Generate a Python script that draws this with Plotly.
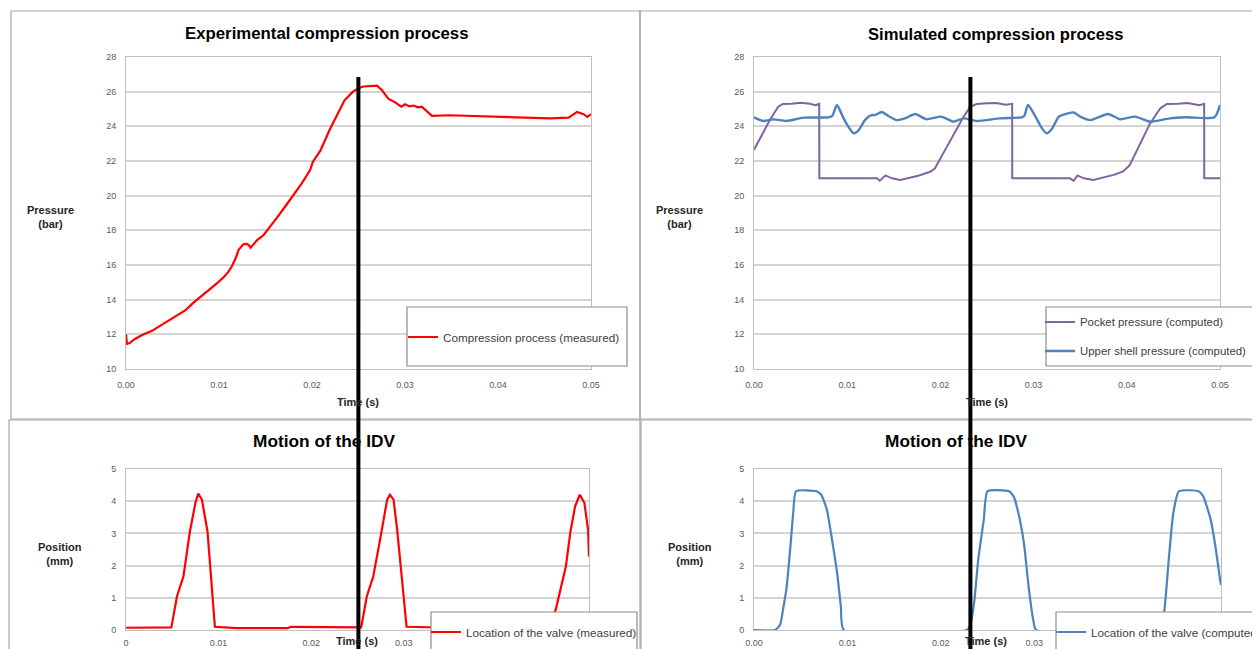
import plotly.graph_objects as go

# ---------------- data ----------------
# Experimental compression process (measured pressure, bar)
t_meas = [0.0000, 0.0001, 0.0004, 0.0010, 0.0019, 0.0028, 0.0037, 0.0046, 0.0055, 0.0064,
          0.0072, 0.0081, 0.0090, 0.0098, 0.0105, 0.0110, 0.0114, 0.0118, 0.0121, 0.0124,
          0.0126, 0.0130, 0.0132, 0.0134, 0.0137, 0.0141, 0.0148, 0.0153, 0.0157, 0.0162,
          0.0171, 0.0180, 0.0189, 0.0198, 0.0201, 0.0209, 0.0219, 0.0227, 0.0235, 0.0244,
          0.0250, 0.0255, 0.0262, 0.0270, 0.0275, 0.0282, 0.0289, 0.0296, 0.0300, 0.0305,
          0.0309, 0.0314, 0.0318, 0.0323, 0.0329, 0.0348, 0.0384, 0.0420, 0.0456, 0.0476,
          0.0481, 0.0485, 0.0492, 0.0496, 0.0500]
p_meas = [12.00, 11.45, 11.50, 11.75, 12.00, 12.20, 12.50, 12.80, 13.06, 13.40,
          13.80, 14.20, 14.56, 14.95, 15.30, 15.60, 15.94, 16.40, 16.87, 17.10,
          17.20, 17.22, 17.15, 17.00, 17.20, 17.44, 17.73, 18.10, 18.40, 18.70,
          19.36, 20.04, 20.71, 21.48, 21.96, 22.60, 23.80, 24.65, 25.50, 26.00,
          26.20, 26.30, 26.33, 26.35, 26.10, 25.60, 25.40, 25.13, 25.27, 25.15,
          25.20, 25.10, 25.13, 24.90, 24.60, 24.64, 24.58, 24.50, 24.46, 24.50,
          24.70, 24.83, 24.70, 24.55, 24.70]

# Simulated pocket pressure (bar)
t_pocket = [0.0000, 0.0017, 0.0026, 0.0031, 0.0040, 0.0050, 0.0060, 0.0066, 0.0070, 0.00701,
            0.0132, 0.0135, 0.0141, 0.0148, 0.0157, 0.0175, 0.0189, 0.0194, 0.0203, 0.0214,
            0.0225, 0.0232, 0.0239, 0.0250, 0.0260, 0.0270, 0.0277, 0.02771, 0.0339, 0.0343,
            0.0347, 0.0354, 0.0364, 0.0386, 0.0396, 0.0403, 0.0414, 0.0425, 0.0436, 0.0443,
            0.0455, 0.0465, 0.0478, 0.0483, 0.04831, 0.0500]
p_pocket = [22.65, 24.36, 25.13, 25.29, 25.30, 25.36, 25.30, 25.22, 25.30, 21.00,
            21.00, 20.86, 21.17, 21.00, 20.90, 21.13, 21.38, 21.57, 22.44, 23.50,
            24.56, 25.13, 25.29, 25.33, 25.35, 25.25, 25.30, 21.00, 21.00, 20.86,
            21.17, 21.00, 20.90, 21.20, 21.40, 21.75, 22.92, 24.17, 25.04, 25.29,
            25.30, 25.35, 25.22, 25.30, 21.00, 21.00]

# Simulated upper shell pressure (bar)
t_shell = [0.0000, 0.0010, 0.0021, 0.0035, 0.0053, 0.0080, 0.0084, 0.0089, 0.0094, 0.0099,
           0.0107, 0.0112, 0.0119, 0.0126, 0.0130, 0.0137, 0.0144, 0.0153, 0.0162, 0.0173,
           0.0185, 0.0201, 0.0214, 0.0225, 0.0239, 0.0264, 0.0287, 0.0290, 0.0294, 0.0302,
           0.0309, 0.0314, 0.0320, 0.0327, 0.0334, 0.0343, 0.0350, 0.0361, 0.0380, 0.0393,
           0.0409, 0.0425, 0.0446, 0.0464, 0.0494, 0.0500]
p_shell = [24.52, 24.31, 24.40, 24.31, 24.50, 24.52, 24.60, 25.23, 24.71, 24.17,
           23.60, 23.75, 24.36, 24.65, 24.65, 24.83, 24.60, 24.36, 24.46, 24.71,
           24.41, 24.56, 24.27, 24.46, 24.31, 24.46, 24.52, 24.60, 25.23, 24.56,
           23.88, 23.60, 23.88, 24.56, 24.71, 24.80, 24.56, 24.36, 24.71, 24.41,
           24.56, 24.27, 24.46, 24.52, 24.52, 25.23]

# Measured valve location (mm)
t_valve_meas = [0.0000, 0.0020, 0.0049, 0.0055, 0.0062, 0.0069, 0.0075, 0.0078, 0.0082, 0.0088,
                0.0091, 0.0096, 0.0120, 0.0175, 0.0178, 0.0220, 0.0254, 0.0260, 0.0267, 0.0275,
                0.0282, 0.0285, 0.0289, 0.0293, 0.0298, 0.0303, 0.0350, 0.0455, 0.0464, 0.0469,
                0.0475, 0.0480, 0.0485, 0.0490, 0.0495, 0.0499, 0.0500]
x_valve_meas = [0.07, 0.08, 0.08, 1.04, 1.66, 3.06, 3.95, 4.24, 4.05, 3.06,
                1.97, 0.10, 0.06, 0.06, 0.10, 0.08, 0.08, 1.04, 1.66, 2.90,
                4.05, 4.20, 4.05, 3.06, 1.66, 0.10, 0.07, 0.07, 0.62, 1.25,
                1.97, 3.06, 3.84, 4.20, 3.95, 3.12, 2.28]

# Computed valve location (mm)
t_valve_comp = [0.0000, 0.00225, 0.0028, 0.0031, 0.0035, 0.0039, 0.0042, 0.0045, 0.0067, 0.0072,
                0.0078, 0.0083, 0.0089, 0.0093, 0.0096, 0.0228, 0.0232, 0.0236, 0.0240, 0.0246,
                0.0250, 0.0273, 0.0278, 0.0283, 0.0289, 0.0294, 0.0299, 0.0302, 0.0434, 0.0439,
                0.0444, 0.0449, 0.0455, 0.0476, 0.0481, 0.0489, 0.0494, 0.0499, 0.0500]
x_valve_comp = [0.00, 0.00, 0.16, 0.62, 1.35, 2.60, 3.64, 4.31, 4.31, 4.20,
                3.74, 2.90, 1.77, 0.73, 0.00, 0.00, 0.20, 0.93, 2.17, 3.42,
                4.31, 4.31, 4.15, 3.64, 2.70, 1.35, 0.31, 0.00, 0.00, 0.52,
                2.17, 3.64, 4.31, 4.31, 4.15, 3.42, 2.60, 1.56, 1.40]

p_ticks = [10, 12, 14, 16, 18, 20, 22, 24, 26, 28]
x_ticks_mm = [0, 1, 2, 3, 4, 5]
t_ticks = [0.00, 0.01, 0.02, 0.03, 0.04, 0.05]

# ---------------- layout helpers ----------------
# The page body has an 8px margin, so the figure is offset by 8px; coordinates
# below are given in window pixels and converted to figure paper fractions.
OFF = 8
W, H = 1260 - OFF, 649 - OFF
FONT = "Liberation Sans, Arial, sans-serif"
def px(x):
    return (x - OFF) / W
def py(y):
    return 1 - (y - OFF) / H

fig = go.Figure()

RED = "#ff0000"
PURPLE = "#8064a2"
BLUE = "#4f81bd"

fig.add_trace(go.Scatter(x=t_meas, y=p_meas, mode="lines", name="Compression process (measured)",
                         line=dict(color=RED, width=2.2), xaxis="x", yaxis="y", legend="legend",
                         showlegend=True))
fig.add_trace(go.Scatter(x=t_pocket, y=p_pocket, mode="lines", name="Pocket pressure (computed)",
                         line=dict(color=PURPLE, width=2), xaxis="x2", yaxis="y2", legend="legend2",
                         showlegend=True))
fig.add_trace(go.Scatter(x=t_shell, y=p_shell, mode="lines", name="Upper shell pressure (computed)",
                         line=dict(color=BLUE, width=2.4, shape="spline", smoothing=0.6),
                         xaxis="x2", yaxis="y2", legend="legend3", showlegend=True))
fig.add_trace(go.Scatter(x=t_valve_meas, y=x_valve_meas, mode="lines", name="Location of the valve (measured)",
                         line=dict(color=RED, width=2.2), xaxis="x3", yaxis="y3", legend="legend4",
                         showlegend=True))
fig.add_trace(go.Scatter(x=t_valve_comp, y=x_valve_comp, mode="lines", name="Location of the valve (computed)",
                         line=dict(color=BLUE, width=2.2, shape="spline", smoothing=0.5),
                         xaxis="x4", yaxis="y4", legend="legend5", showlegend=True))

tickfont = dict(family=FONT, size=9, color="#595959")
GRID = "#d4d4d4"
FRAME = "#bfbfbf"

def xax(domain, anchor, fmt, standoff=7):
    return dict(domain=domain, anchor=anchor, range=[0, 0.05], tickvals=t_ticks,
                tickformat=fmt, showgrid=False, zeroline=False, showline=True, mirror=True,
                linecolor=FRAME, linewidth=1, ticks="", tickfont=tickfont,
                ticklabelstandoff=standoff, fixedrange=True)

def yax(domain, anchor, rng, vals):
    return dict(domain=domain, anchor=anchor, range=rng, tickvals=vals,
                showgrid=True, gridcolor=GRID, gridwidth=1.5, zeroline=False, showline=True,
                mirror=True, linecolor=FRAME, linewidth=1, ticks="", tickfont=tickfont,
                ticklabelstandoff=7, fixedrange=True)

top_y = [py(369), py(57)]
bot_y = [py(630), py(469)]

fig.update_layout(
    width=W, height=H,
    margin=dict(l=0, r=0, t=0, b=0, autoexpand=False),
    paper_bgcolor="white", plot_bgcolor="white",
    showlegend=True,
    font=dict(family=FONT, color="#404040"),
    xaxis=xax([px(126), px(591)], "y", ".2f"),
    yaxis=yax(top_y, "x", [10, 28], p_ticks),
    xaxis2=xax([px(754), px(1220)], "y2", ".2f"),
    yaxis2=yax(top_y, "x2", [10, 28], p_ticks),
    xaxis3=xax([px(126), px(589)], "y3", "", standoff=4),
    yaxis3=yax(bot_y, "x3", [0, 5], x_ticks_mm),
    xaxis4=xax([px(754), px(1221)], "y4", ".2f", standoff=4),
    yaxis4=yax(bot_y, "x4", [0, 5], x_ticks_mm),
)

leg_common = dict(bgcolor="rgba(0,0,0,0)", borderwidth=0, xanchor="left", yanchor="middle",
                  itemclick=False, itemdoubleclick=False, visible=True)
def lfont(size):
    return dict(family=FONT, size=size, color="#404040")
fig.update_layout(
    legend=dict(x=px(403), y=py(337), font=lfont(11.7), **leg_common),
    legend2=dict(x=px(1040), y=py(322), font=lfont(11.4), **leg_common),
    legend3=dict(x=px(1040), y=py(351), font=lfont(11.4), **leg_common),
    legend4=dict(x=px(426), y=py(632), font=lfont(11.7), **leg_common),
    legend5=dict(x=px(1051), y=py(632), font=lfont(11.7), **leg_common),
)

shapes = []
border = dict(color="#a6a6a6", width=1.2)
# outer chart frames
for (x0, y0, x1, y1) in [(11, 11, 640, 419), (640, 11, 1262, 419), (9, 420, 640, 665), (641, 420, 1262, 665)]:
    shapes.append(dict(type="rect", xref="paper", yref="paper", x0=px(x0), x1=px(x1),
                       y0=py(y1), y1=py(y0), line=border, fillcolor="rgba(0,0,0,0)", layer="below"))
# legend boxes
for (x0, y0, x1, y1) in [(407, 307, 627, 366), (1046, 307, 1256, 366), (431, 612, 637, 665), (1056, 612, 1265, 665)]:
    shapes.append(dict(type="rect", xref="paper", yref="paper", x0=px(x0), x1=px(x1),
                       y0=py(y1), y1=py(y0), line=dict(color="#8c8c8c", width=1.2),
                       fillcolor="white", layer="above"))
# black vertical marker lines
for xl in [358.4, 970.4]:
    shapes.append(dict(type="line", xref="paper", yref="paper", x0=px(xl), x1=px(xl),
                       y0=py(660), y1=py(77), line=dict(color="black", width=4), layer="above"))
fig.update_layout(shapes=shapes)

ann = []
def text(x, y, s, size, bold=True, color="#000000"):
    ann.append(dict(xref="paper", yref="paper", x=px(x), y=py(y), text=(f"<b>{s}</b>" if bold else s),
                    showarrow=False, xanchor="center", yanchor="middle",
                    font=dict(family=FONT, size=size, color=color)))

text(327, 33, "Experimental compression process", 16.8)
text(995, 35, "Simulated compression process", 16.6)
text(324, 441, "Motion of the IDV", 17.3)
text(956, 441, "Motion of the IDV", 17.3)
text(50, 217, "Pressure<br>(bar)", 11, color="#262626")
text(679, 217, "Pressure<br>(bar)", 11, color="#262626")
text(60, 554, "Position<br>(mm)", 11, color="#262626")
text(690, 554, "Position<br>(mm)", 11, color="#262626")
text(358, 402, "Time (s)", 11, color="#262626")
text(987, 402, "Time (s)", 11, color="#262626")
text(357, 641, "Time (s)", 11, color="#262626")
text(986, 641, "Time (s)", 11, color="#262626")
fig.update_layout(annotations=ann)

fig.write_html("out.html")
